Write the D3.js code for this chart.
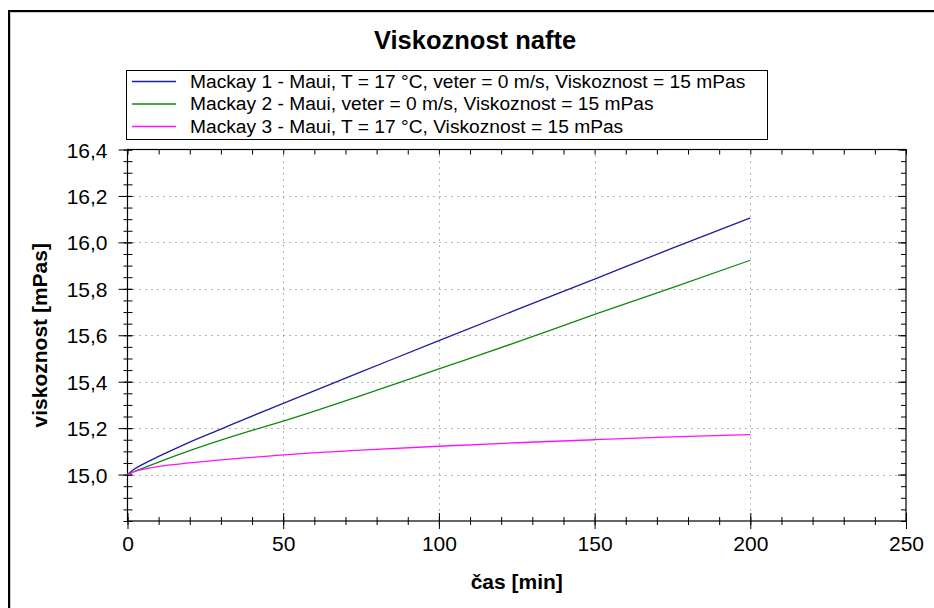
<!DOCTYPE html>
<html>
<head>
<meta charset="utf-8">
<script src="https://cdn.jsdelivr.net/npm/d3@7"></script>
<style>
  body { margin: 0; background: #fff; }
  svg { display: block; font-family: "Liberation Sans", Arial, sans-serif; }
</style>
</head>
<body>
<svg id="chart" width="934" height="608"></svg>
<script>
// data
const cas = [0, 2, 5, 10, 20, 30, 40, 50, 75, 100, 125, 150, 175, 200];
const mackay1 = [15.0, 15.022, 15.045, 15.078, 15.14, 15.196, 15.252, 15.307, 15.442, 15.577, 15.71, 15.842, 15.975, 16.105];
const mackay2 = [15.0, 15.012, 15.028, 15.054, 15.103, 15.148, 15.19, 15.23, 15.34, 15.455, 15.57, 15.69, 15.805, 15.923];
const mackay3 = [15.0, 15.012, 15.022, 15.035, 15.05, 15.063, 15.074, 15.085, 15.105, 15.122, 15.137, 15.15, 15.162, 15.172];

const seriesNames = [
  "Mackay 1 - Maui, T = 17 °C, veter = 0 m/s, Viskoznost = 15 mPas",
  "Mackay 2 - Maui, veter = 0 m/s, Viskoznost = 15 mPas",
  "Mackay 3 - Maui, T = 17 °C, Viskoznost = 15 mPas"
];
const seriesColors = ["#1c1ca0", "#118811", "#ff11ff"];
const xTicks = [0, 50, 100, 150, 200, 250];
const yTicks = [15.0, 15.2, 15.4, 15.6, 15.8, 16.0, 16.2, 16.4];

const svg = d3.select("#chart");
const pLeft = 127.5, pRight = 906, pTop = 149.5, pBottom = 521;

const x = d3.scaleLinear().domain([0, 250]).range([pLeft, pRight]);
const y = d3.scaleLinear().domain([14.8, 16.4]).range([pBottom, pTop]);

// outer frame
svg.append("path")
  .attr("d", `M10.5,608 V12.5 H934`)
  .attr("fill", "none").attr("stroke", "#c8c8c8").attr("stroke-width", 1);
svg.append("path")
  .attr("d", `M9,608 V11 H934`)
  .attr("fill", "none").attr("stroke", "#000").attr("stroke-width", 2);

// title
svg.append("text")
  .attr("x", 475).attr("y", 49)
  .attr("text-anchor", "middle")
  .attr("font-size", 25.5).attr("font-weight", "bold")
  .text("Viskoznost nafte");

// grid
const grid = svg.append("g").attr("stroke", "#666").attr("stroke-width", 1)
  .attr("stroke-dasharray", "1,5");
grid.selectAll(".gx").data([50, 100, 150, 200]).enter().append("line")
  .attr("x1", d => Math.round(x(d)) + 0.5).attr("x2", d => Math.round(x(d)) + 0.5)
  .attr("y1", pTop).attr("y2", pBottom);
grid.selectAll(".gy").data(yTicks.filter(d => d < 16.4)).enter().append("line")
  .attr("y1", d => Math.round(y(d)) + 0.5).attr("y2", d => Math.round(y(d)) + 0.5)
  .attr("x1", pLeft).attr("x2", pRight);

// axes via d3
const yMinor = d3.range(14.8, 16.4001, 0.05).map(v => +v.toFixed(2));
const xMinor = d3.range(0, 251, 10);
const fmt = d => d3.format(".1f")(d).replace(".", ",");

function strip(g) { g.select(".domain").remove(); g.selectAll("line").attr("stroke", "#000"); }

// left axis: ticks crossing the line
svg.append("g").attr("transform", `translate(${pLeft + 5},0)`)
  .call(d3.axisLeft(y).tickValues(yMinor).tickSize(9).tickFormat(""))
  .call(strip);
svg.append("g").attr("transform", `translate(${pLeft + 5},0)`)
  .call(d3.axisLeft(y).tickValues(yTicks).tickSize(14).tickPadding(11).tickFormat(fmt))
  .call(strip)
  .call(g => g.selectAll("text").attr("font-size", 21).attr("fill", "#000")
    .attr("font-family", "Liberation Sans, Arial, sans-serif").attr("dy", "0.36em"));

// right axis: inward ticks
svg.append("g").attr("transform", `translate(${pRight},0)`)
  .call(d3.axisLeft(y).tickValues(yMinor).tickSize(5).tickFormat(""))
  .call(strip);
svg.append("g").attr("transform", `translate(${pRight},0)`)
  .call(d3.axisLeft(y).tickValues(yTicks).tickSize(8).tickFormat(""))
  .call(strip);

// bottom axis: ticks crossing the line
svg.append("g").attr("transform", `translate(0,${pBottom - 4})`)
  .call(d3.axisBottom(x).tickValues(xMinor).tickSize(8).tickFormat(""))
  .call(strip);
svg.append("g").attr("transform", `translate(0,${pBottom - 8})`)
  .call(d3.axisBottom(x).tickValues(xTicks).tickSize(16).tickPadding(7).tickFormat(d3.format("d")))
  .call(strip)
  .call(g => g.selectAll("text").attr("font-size", 21).attr("fill", "#000")
    .attr("font-family", "Liberation Sans, Arial, sans-serif"));

// top axis: inward ticks
svg.append("g").attr("transform", `translate(0,${pTop})`)
  .call(d3.axisBottom(x).tickValues(xMinor).tickSize(5).tickFormat(""))
  .call(strip);

// frame lines
svg.append("rect")
  .attr("x", pLeft).attr("y", pTop).attr("width", pRight - pLeft).attr("height", pBottom - pTop)
  .attr("fill", "none").attr("stroke", "#000").attr("stroke-width", 1.2);

// series
const allSeries = [mackay1, mackay2, mackay3];
const line = d3.line().x((d, i) => x(cas[i])).y(d => y(d)).curve(d3.curveMonotoneX);
svg.append("g").selectAll("path").data(allSeries).enter().append("path")
  .attr("d", d => line(d))
  .attr("fill", "none")
  .attr("stroke", (d, i) => seriesColors[i])
  .attr("stroke-width", 1.3);

// axis titles
svg.append("text")
  .attr("x", (pLeft + pRight) / 2).attr("y", 589)
  .attr("text-anchor", "middle").attr("font-size", 21).attr("font-weight", "bold")
  .text("čas [min]");
svg.append("text")
  .attr("transform", `translate(47,${(pTop + pBottom) / 2}) rotate(-90)`)
  .attr("text-anchor", "middle").attr("font-size", 21).attr("font-weight", "bold")
  .text("viskoznost [mPas]");

// legend
const legend = svg.append("g");
legend.append("rect")
  .attr("x", 126.5).attr("y", 70.5).attr("width", 641).attr("height", 69)
  .attr("fill", "#fff").attr("stroke", "#000").attr("stroke-width", 1);
const rows = legend.selectAll(".row").data(seriesNames).enter().append("g")
  .attr("transform", (d, i) => `translate(0,${81 + i * 22.5})`);
rows.append("line")
  .attr("x1", 132).attr("x2", 176).attr("y1", 0.5).attr("y2", 0.5)
  .attr("stroke", (d, i) => seriesColors[i]).attr("stroke-width", 1.3);
rows.append("text")
  .attr("x", 190).attr("y", 0).attr("dy", "0.36em")
  .attr("font-size", 19.2)
  .text(d => d);
</script>
</body>
</html>
